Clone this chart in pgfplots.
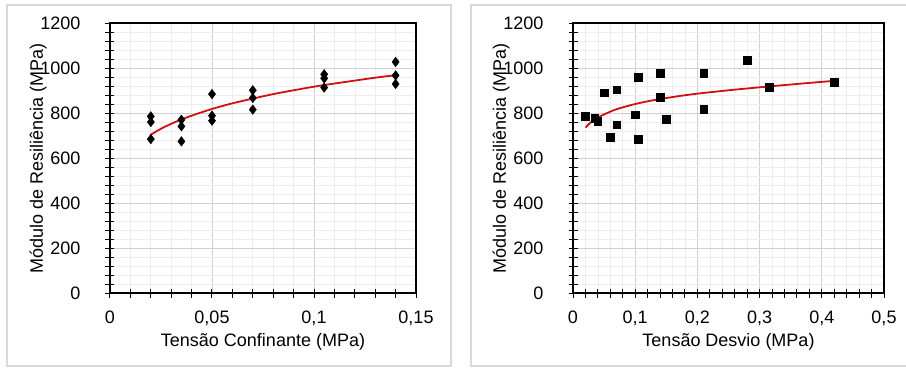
\documentclass[border=0pt]{standalone}
\usepackage{pgfplots}
\pgfplotsset{compat=1.18}
\usepackage{fontspec}
\setmainfont{Liberation Sans}
\definecolor{frm}{HTML}{D9D9D9}
\definecolor{gmaj}{HTML}{D0D0D0}
\definecolor{gmin}{HTML}{EDEDED}
\definecolor{fitred}{HTML}{D01010}
\newcommand{\bigf}{\fontsize{18}{20}\selectfont}
\pgfplotsset{mystyle/.style={
  scale only axis, ymin=0, ymax=1200, ytick={0,200,...,1200},
  minor y tick num=4, minor x tick num=4,
  grid=both,
  major grid style={gmaj, line width=0.8pt},
  minor grid style={gmin, line width=0.6pt},
  axis line style={line width=1.1pt},
  tick align=center, major tick length=9pt, minor tick length=9pt,
  tick style={black, line width=1pt},
  xtick pos=lower, ytick pos=left,
  /pgf/number format/assume math mode=true,
  /pgf/number format/use comma,
  /pgf/number format/1000 sep={},
  every tick label/.append style={font=\bigf},
  yticklabel style={font=\bigf, anchor=east, inner sep=0pt, xshift=-25pt},
  xticklabel style={font=\bigf, anchor=north, inner sep=0pt, yshift=-13pt},
  label style={font=\bigf},
  xlabel style={at={(axis description cs:0.5,0)}, anchor=base, yshift=-53pt},
  ylabel={Módulo de Resiliência (MPa)},
}}
\begin{document}
\begin{tikzpicture}[x=1pt,y=1pt]
\useasboundingbox (0,0) rectangle (906,368);
\draw[frm, line width=1.5pt] (7,2) rectangle (451,363);
\draw[frm, line width=1.5pt] (471,2) rectangle (912,363);
\begin{axis}[mystyle, at={(110pt,75pt)}, anchor=south west, width=306pt, height=270pt,
  xmin=0, xmax=0.15, xtick={0,0.05,0.1,0.15},
  xticklabels={0,{0,05},{0,1},{0,15}},
  xlabel={Tensão Confinante (MPa)},
  ylabel style={at={(axis description cs:-0.235,0.5)}, anchor=center, rotate=0}]
\addplot[only marks, mark=diamond*, mark size=4.8pt, black] coordinates {
(0.02,785) (0.02,760) (0.02,684)
(0.035,770) (0.035,741) (0.035,674)
(0.05,884) (0.05,788) (0.05,766)
(0.07,901) (0.07,867) (0.07,815)
(0.105,972) (0.105,954) (0.105,913)
(0.14,1027) (0.14,967) (0.14,929)};
\addplot[fitred, line width=1.8pt, smooth] coordinates {
(0.02,704) (0.025,730) (0.03,752) (0.035,771) (0.04,788) (0.05,818)
(0.06,843) (0.07,864) (0.08,884) (0.09,901) (0.1,917) (0.11,931)
(0.12,944) (0.13,957) (0.14,968)};
\end{axis}
\begin{axis}[mystyle, at={(573pt,75pt)}, anchor=south west, width=311pt, height=270pt,
  xmin=0, xmax=0.5, xtick={0,0.1,...,0.5},
  xticklabels={0,{0,1},{0,2},{0,3},{0,4},{0,5}},
  xlabel={Tensão Desvio (MPa)},
  ylabel style={at={(axis description cs:-0.2315,0.5)}, anchor=center, rotate=0}]
\addplot[only marks, mark=square*, mark size=3.8pt, black] coordinates {
(0.02,787) (0.035,778) (0.04,763) (0.05,890) (0.06,692) (0.07,904)
(0.07,748) (0.1,793) (0.105,958) (0.105,683) (0.14,976) (0.14,871)
(0.15,773) (0.21,976) (0.21,818) (0.28,1034) (0.315,916) (0.42,938)};
\addplot[fitred, line width=1.8pt, smooth] coordinates {
(0.02,735) (0.03,762) (0.041,781) (0.055,800) (0.068,815) (0.085,829)
(0.1,840) (0.12,852) (0.14,862) (0.17,875) (0.2,886) (0.25,901)
(0.28,909) (0.315,918) (0.36,929) (0.42,943)};
\end{axis}
\end{tikzpicture}
\end{document}
